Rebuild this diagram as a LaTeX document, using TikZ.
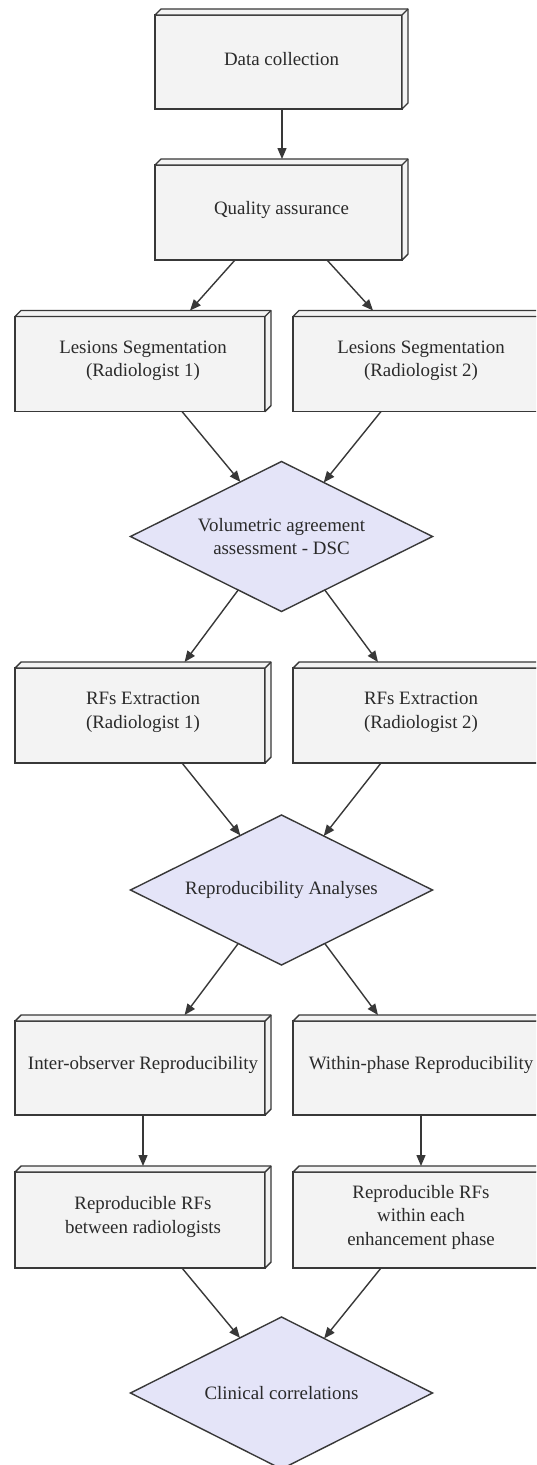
\documentclass[tikz,border=0pt]{standalone}
\usepackage{fontspec}
\setmainfont{Liberation Serif}
\usetikzlibrary{shapes.geometric,arrows.meta,calc}
\definecolor{lc}{HTML}{383838}
\definecolor{bf}{HTML}{F3F3F3}
\definecolor{df}{HTML}{E4E4F8}
\definecolor{tc}{HTML}{2A2A2A}
\newcommand\boxthreed[1]{%
  \draw[boxline] (#1.north west) -- ++(6,-6) -- ($(#1.north east)+(6,-6)$) -- ($(#1.south east)+(6,-6)$) -- (#1.south east) -- (#1.north east) -- cycle;
  \draw[boxline] (#1.north east) -- ++(6,-6);
}
\begin{document}
\begin{tikzpicture}[x=1pt,y=-1pt,
  boxline/.style={draw=lc, fill=bf, line width=1.4pt, line join=round},
  stepbox/.style={rectangle, draw=lc, fill=bf, line width=1.4pt, inner sep=0pt, outer sep=0pt, minimum width=250pt, minimum height=95pt},
  topbox/.style={stepbox, minimum width=247pt},
  txt/.style={text=tc, align=center, font=\fontsize{18.9}{23.5}\selectfont},
  decision/.style={diamond, shape aspect=2, draw=lc, fill=df, line width=1.4pt, inner sep=0pt, outer sep=0pt, minimum width=302pt, minimum height=150pt, txt},
  arr/.style={draw=lc, line width=1.4pt, -{Triangle[length=11pt,width=9pt]}}
]
\clip (0,0) rectangle (536,1465);
\fill[white] (0,0) rectangle (536,1465);

\node[topbox, minimum height=94pt, label={[txt,xshift=3pt,yshift=3pt]center:Data collection}] (dc) at (278.5,62) {};
\boxthreed{dc}
\node[topbox, label={[txt,xshift=3pt,yshift=3pt]center:Quality assurance}] (qa) at (278.5,212.5) {};
\boxthreed{qa}
\node[stepbox, label={[txt,xshift=3pt,yshift=3pt]center:{Lesions Segmentation\\(Radiologist 1)}}] (ls1) at (140,364) {};
\boxthreed{ls1}
\node[stepbox, label={[txt,xshift=3pt,yshift=3pt]center:{Lesions Segmentation\\(Radiologist 2)}}] (ls2) at (418,364) {};
\boxthreed{ls2}
\node[decision] (vol) at (281.5,536.5) {Volumetric agreement\\assessment - DSC};
\node[stepbox, label={[txt,xshift=3pt,yshift=3pt]center:{RFs Extraction\\(Radiologist 1)}}] (rf1) at (140,715.5) {};
\boxthreed{rf1}
\node[stepbox, label={[txt,xshift=3pt,yshift=3pt]center:{RFs Extraction\\(Radiologist 2)}}] (rf2) at (418,715.5) {};
\boxthreed{rf2}
\node[decision] (rep) at (281.5,890) {Reproducibility Analyses};
\node[stepbox, minimum height=94pt, label={[txt,xshift=3pt,yshift=3pt]center:Inter-observer Reproducibility}] (io) at (140,1068) {};
\boxthreed{io}
\node[stepbox, minimum height=94pt, label={[txt,xshift=3pt,yshift=3pt]center:Within-phase Reproducibility}] (wp) at (418,1068) {};
\boxthreed{wp}
\node[stepbox, minimum height=96pt, label={[txt,xshift=3pt,yshift=3pt]center:{Reproducible RFs\\between radiologists}}] (rr1) at (140,1220) {};
\boxthreed{rr1}
\node[stepbox, minimum height=96pt, label={[txt,xshift=3pt,yshift=3pt]center:{Reproducible RFs\\within each\\enhancement phase}}] (rr2) at (418,1220) {};
\boxthreed{rr2}
\node[decision, minimum height=152pt] (cc) at (281.5,1393) {Clinical correlations};

\draw[arr] ($(dc.south)+(3.5,0)$) -- ($(qa.north)+(3.5,-6)$);
\draw[arr] ($(qa.south)+(-43.5,0)$) -- ($(ls1.north)+(50,-6)$);
\draw[arr] ($(qa.south)+(48.5,0)$) -- ($(ls2.north)+(-45,-6)$);
\draw[arr] ($(ls1.south)+(42,0)$) -- (vol.127.8);
\draw[arr] ($(ls2.south)+(-37,0)$) -- (vol.52.2);
\draw[arr] (vol.231) -- ($(rf1.north)+(44.6,-6)$);
\draw[arr] (vol.309) -- ($(rf2.north)+(-40,-6)$);
\draw[arr] ($(rf1.south)+(42,0)$) -- (rep.127.8);
\draw[arr] ($(rf2.south)+(-37,0)$) -- (rep.52.2);
\draw[arr] (rep.231) -- ($(io.north)+(44.6,-6)$);
\draw[arr] (rep.309) -- ($(wp.north)+(-40,-6)$);
\draw[arr] ($(io.south)+(3,0)$) -- ($(rr1.north)+(3,-6)$);
\draw[arr] ($(wp.south)+(3,0)$) -- ($(rr2.north)+(3,-6)$);
\draw[arr] ($(rr1.south)+(42,0)$) -- (cc.127.8);
\draw[arr] ($(rr2.south)+(-37,0)$) -- (cc.52.2);
\end{tikzpicture}
\end{document}
